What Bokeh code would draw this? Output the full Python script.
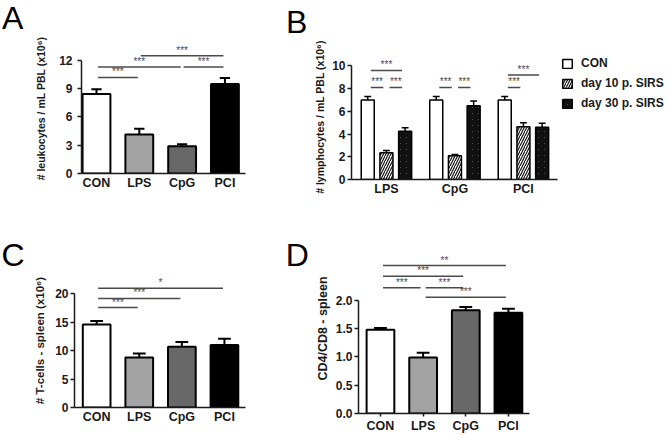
from bokeh.plotting import figure
from bokeh.layouts import column, row
from bokeh.models import (ColumnDataSource, FixedTicker, Legend, LegendItem, Div,
                          PrintfTickFormatter, Range1d)
from bokeh.core.properties import value
from bokeh.embed import file_html
from bokeh.resources import INLINE

# ---------------- data ----------------
cats = ["CON", "LPS", "CpG", "PCI"]
bar_colors = ["#ffffff", "#a3a3a3", "#686868", "#000000"]

A_mean = [8.45, 4.15, 2.9, 9.5]
A_err = [0.5, 0.6, 0.2, 0.65]
A_ticks = [0, 3, 6, 9, 12]
A_sig_from = [0, 0, 2, 1]
A_sig_to = [1, 2, 3, 3]
A_sig_y = [10.2, 11.3, 11.3, 12.5]
A_sig_txt = ["***", "***", "***", "***"]

B_groups = ["LPS", "CpG", "PCI"]
B_series = ["CON", "day 10 p. SIRS", "day 30 p. SIRS"]
B_con = [7.0, 7.0, 7.0]
B_con_err = [0.3, 0.3, 0.3]
B_d10 = [2.35, 2.1, 4.65]
B_d10_err = [0.2, 0.1, 0.35]
B_d30 = [4.25, 6.5, 4.6]
B_d30_err = [0.3, 0.4, 0.35]
B_ticks = [0, 2, 4, 6, 8, 10]
B_sig_group = [0, 0, 0, 1, 1, 2, 2]
B_sig_from = [0, 0, 1, 0, 1, 0, 0]
B_sig_to = [2, 1, 2, 1, 2, 2, 1]
B_sig_y = [9.6, 8.1, 8.1, 8.1, 8.1, 9.2, 8.1]
B_sig_txt = ["***"] * 7

C_mean = [14.6, 8.8, 10.7, 11.0]
C_err = [0.65, 0.7, 0.85, 1.1]
C_ticks = [0, 5, 10, 15, 20]
C_sig_from = [0, 0, 0]
C_sig_to = [1, 2, 3]
C_sig_y = [17.6, 19.2, 21.0]
C_sig_txt = ["***", "***", "*"]

D_mean = [1.48, 0.99, 1.82, 1.78]
D_err = [0.03, 0.08, 0.06, 0.07]
D_ticks = [0, 0.5, 1.0, 1.5, 2.0]
D_sig_from = [0, 0, 0, 1, 1]
D_sig_to = [3, 2, 1, 2, 3]
D_sig_y = [2.61, 2.42, 2.22, 2.22, 2.05]
D_sig_txt = ["**", "***", "***", "***", "***"]

FONT = "Liberation Sans"
AX = "#1a1a1a"
SIG = "#4a4a4a"


def make_fig(w, h, left, right, top, bottom, xr, yr):
    p = figure(width=w, height=h, x_range=Range1d(*xr), y_range=Range1d(*yr),
               output_backend="svg", toolbar_location=None,
               min_border_left=left, min_border_right=right,
               min_border_top=top, min_border_bottom=bottom)
    p.grid.visible = False
    p.outline_line_color = None
    p.background_fill_color = "white"
    p.border_fill_color = "white"
    return p


def style_axes(p, yticks, ybounds, ylabel, ylabel_size, ylabel_standoff, ylab_standoff,
               xticks, xlabels, xbounds, xtick_out=0, yfmt=None):
    ya = p.yaxis[0]
    ya.ticker = FixedTicker(ticks=yticks)
    ya.bounds = ybounds
    if yfmt:
        ya.formatter = PrintfTickFormatter(format=yfmt)
    ya.axis_label = ylabel
    ya.axis_label_text_font = FONT
    ya.axis_label_text_font_style = "bold"
    ya.axis_label_text_font_size = ylabel_size
    ya.axis_label_text_color = AX
    ya.axis_label_standoff = ylabel_standoff
    ya.major_label_text_font = FONT
    ya.major_label_text_font_style = "bold"
    ya.major_label_text_font_size = "12px"
    ya.major_label_text_color = AX
    ya.major_label_standoff = ylab_standoff
    ya.major_tick_out = 4
    ya.major_tick_in = 0
    ya.minor_tick_out = 0
    ya.minor_tick_in = 0
    ya.axis_line_width = 1.5
    ya.axis_line_color = AX
    ya.major_tick_line_width = 1.5
    ya.major_tick_line_color = AX

    xa = p.xaxis[0]
    xa.ticker = FixedTicker(ticks=xticks)
    xa.major_label_overrides = {t: lab for t, lab in zip(xticks, xlabels)}
    xa.bounds = xbounds
    xa.major_label_text_font = FONT
    xa.major_label_text_font_style = "bold"
    xa.major_label_text_font_size = "12.5px"
    xa.major_label_text_color = AX
    xa.major_label_standoff = 2
    xa.major_tick_out = xtick_out
    xa.major_tick_in = 0
    xa.minor_tick_out = 0
    xa.minor_tick_in = 0
    xa.axis_line_width = 1.5
    xa.axis_line_color = AX
    xa.major_tick_line_width = 1.5
    xa.major_tick_line_color = AX


def sig_marks(p, x0s, x1s, ys, txts, inset):
    xa = [a + inset for a in x0s]
    xb = [b - inset for b in x1s]
    src = ColumnDataSource(dict(x0=xa, x1=xb, y=ys, xm=[(a + b) / 2 for a, b in zip(xa, xb)], t=txts))
    p.segment(x0="x0", y0="y", x1="x1", y1="y", source=src, line_color=SIG, line_width=1.5)
    p.text(x="xm", y="y", text="t", source=src, text_align="center", text_baseline="bottom",
           text_font=value(FONT), text_font_size="10px", text_color=SIG, y_offset=0)


def bar_panel(p, means, errs, cap):
    xs = list(range(len(cats)))
    src = ColumnDataSource(dict(x=xs, top=means, c=bar_colors,
                                e=[m + e for m, e in zip(means, errs)],
                                cl=[x - cap for x in xs], cr=[x + cap for x in xs]))
    p.segment(x0="x", y0="top", x1="x", y1="e", source=src, line_color="black", line_width=2)
    p.segment(x0="cl", y0="e", x1="cr", y1="e", source=src, line_color="black", line_width=2)
    p.vbar(x="x", top="top", bottom=0, width=0.65, source=src, fill_color="c",
           line_color="black", line_width=2)


def letters_div(w, h, items):
    spans = "".join(
        '<span style="position:absolute; left:%spx; top:%spx; font-family:\'Liberation Sans\'; '
        'font-size:32px; line-height:36px; color:#000;">%s</span>' % (l, t, s)
        for s, l, t in items)
    return Div(text='<div style="position:relative; width:%dpx; height:%dpx;">%s</div>' % (w, h, spans),
               width=w, height=h, margin=0)


# ---------------- panel A ----------------
divA = letters_div(280, 36, [("A", 2, 0)])
pA = make_fig(280, 172, 81, 35, 7, 35, (-0.35, 3.48), (0, 13.8))
bar_panel(pA, A_mean, A_err, 0.12)
sig_marks(pA, A_sig_from, A_sig_to, A_sig_y, A_sig_txt, 0.035)
style_axes(pA, A_ticks, (0, 12), "# leukocytes / mL PBL (x10\u2076)", "10.5px", 9, 5,
           [0, 1, 2, 3], cats, (-0.35, 3.48))

# ---------------- panel B ----------------
divB = letters_div(389, 41, [("B", 6, 4)])
pB = make_fig(389, 167, 71, 4, 13, 29, (-0.51, 4.074), (0, 11))
off = 0.273
bw = 0.19
series_vals = [(B_con, B_con_err), (B_d10, B_d10_err), (B_d30, B_d30_err)]
hatch_w = [0, 1.2, 4.0]
hatch_s = [0, 5, 6]
renderers = []
for s, (vals, errs) in enumerate(series_vals):
    xs = [g + (s - 1) * off for g in range(len(B_groups))]
    src = ColumnDataSource(dict(x=xs, top=vals, e=[v + e for v, e in zip(vals, errs)],
                                cl=[x - 0.05 for x in xs], cr=[x + 0.05 for x in xs]))
    pB.segment(x0="x", y0="top", x1="x", y1="e", source=src, line_color="black", line_width=1.5)
    pB.segment(x0="cl", y0="e", x1="cr", y1="e", source=src, line_color="black", line_width=1.5)
    kw = dict(fill_color="#ffffff", line_color="black", line_width=1.5)
    if hatch_w[s] > 0:
        kw.update(hatch_pattern="/", hatch_color="#111111", hatch_weight=hatch_w[s],
                  hatch_scale=hatch_s[s])
    r = pB.vbar(x="x", top="top", bottom=0, width=bw, source=src, **kw)
    renderers.append(r)
bx0 = [g + (f - 1) * off for g, f in zip(B_sig_group, B_sig_from)]
bx1 = [g + (t - 1) * off for g, t in zip(B_sig_group, B_sig_to)]
sig_marks(pB, bx0, bx1, B_sig_y, B_sig_txt, 0.045)
style_axes(pB, B_ticks, (0, 10), "# lymphocytes / mL PBL (x10\u2076)", "10.5px", 3, 2,
           [0, 1, 2], B_groups, (-0.51, 2.5))
legend = Legend(items=[LegendItem(label=lab, renderers=[r]) for lab, r in zip(B_series, renderers)],
                location=(210, 69))
legend.border_line_color = None
legend.background_fill_alpha = 0
legend.label_text_font = FONT
legend.label_text_font_style = "bold"
legend.label_text_font_size = "12px"
legend.label_text_color = AX
legend.glyph_width = 12
legend.glyph_height = 11
legend.label_height = 14
legend.label_standoff = 8
legend.spacing = 6
legend.padding = 0
legend.margin = 0
pB.add_layout(legend)

# ---------------- panel C (+ letter D, which sits left of panel D's axis) ----------------
divC = letters_div(312, 65, [("C", 1.5, 28.9), ("D", 285.8, 29.1)])
pC = make_fig(312, 162, 74, 67, 0, 28, (-0.52, 3.494), (0, 23.6))
bar_panel(pC, C_mean, C_err, 0.15)
sig_marks(pC, C_sig_from, C_sig_to, C_sig_y, C_sig_txt, 0.035)
style_axes(pC, C_ticks, (0, 20), "# T-cells - spleen (x10\u2076)", "11.5px", 6, 2,
           [0, 1, 2, 3], cats, (-0.52, 3.494))

# ---------------- panel D ----------------
pD = make_fig(357, 227, 45, 140, 35, 21, (-0.515, 3.494), (0, 3))
bar_panel(pD, D_mean, D_err, 0.15)
sig_marks(pD, D_sig_from, D_sig_to, D_sig_y, D_sig_txt, 0.06)
style_axes(pD, D_ticks, (0, 2), "CD4/CD8 - spleen", "12.5px", 3, 2,
           [0, 1, 2, 3], cats, (-0.515, 3.494), xtick_out=3, yfmt="%.1f")

layout = column(
    row(column(divA, pA, spacing=0), column(divB, pB, spacing=0), spacing=0),
    row(column(divC, pC, spacing=0), pD, spacing=0),
    spacing=0)
open("out.html", "w").write(file_html(layout, INLINE))
